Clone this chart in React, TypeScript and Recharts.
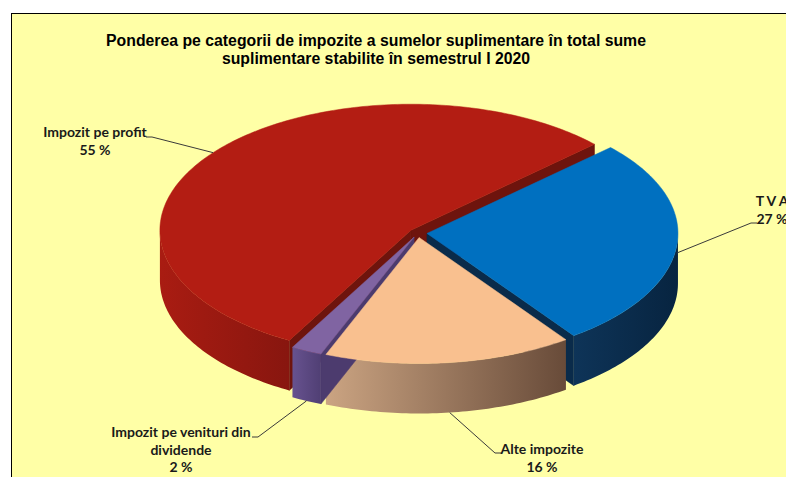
import { PieChart, Pie } from 'recharts';

const categories = [
  'Impozit pe profit',
  'T V A',
  'Alte impozite',
  'Impozit pe venituri din dividende',
];
const shares = [55, 27, 16, 2];
// how each category name is broken over lines in its label
const nameLines = [
  ['Impozit pe profit'],
  ['T V A'],
  ['Alte impozite'],
  ['Impozit pe venituri din', 'dividende'],
];

const topColors = ['#B31D13', '#0070C0', '#F9C08F', '#8064A2'];
const wallColors = [
  ['#A91C12', '#88160F'],
  ['#0E3458', '#072440'],
  ['#CBA482', '#684B39'],
  ['#67528F', '#503F74'],
];
const faceColors = ['#6E140D', '#0A2B4A', '#8A6A50', '#4C3B6E'];

// label placement: knee of leader, tail of leader, text centre x, first baseline
const labelLayout = [
  { knee: [152, 137], tail: [146, 137], tx: 95, ty: 137 },
  { knee: [751, 223], tail: [757, 223], tx: 772, ty: 206 },
  { knee: [495, 453], tail: [502, 453], tx: 542, ty: 454 },
  { knee: [258, 437], tail: [252, 437], tx: 181, ty: 437 },
];

const data = categories.map((name, idx) => ({ name, value: shares[idx], idx }));

const TILT = 0.502;
const DEPTH = 50;
const EXPLODE = 9;

const rad = (d: number) => (d * Math.PI) / 180;

const geom = (p: any) => {
  const a1 = Math.min(p.startAngle, p.endAngle);
  const a2 = Math.max(p.startAngle, p.endAngle);
  const mid = (a1 + a2) / 2;
  const ox = EXPLODE * Math.cos(rad(mid));
  const oy = -EXPLODE * TILT * Math.sin(rad(mid));
  const r = p.outerRadius;
  const pt = (a: number, dz = 0): [number, number] => [
    p.cx + ox + r * Math.cos(rad(a)),
    p.cy + oy - r * TILT * Math.sin(rad(a)) + dz,
  ];
  const arc = (from: number, to: number, dz = 0) => {
    const n = Math.max(2, Math.ceil(Math.abs(to - from)));
    const pts: [number, number][] = [];
    for (let k = 0; k <= n; k++) pts.push(pt(from + ((to - from) * k) / n, dz));
    return pts;
  };
  const c: [number, number] = [p.cx + ox, p.cy + oy];
  return { a1, a2, pt, arc, c };
};

const toPts = (pts: [number, number][]) => pts.map((q) => `${q[0].toFixed(2)},${q[1].toFixed(2)}`).join(' ');

const WallShape = (p: any) => {
  const idx = p.payload?.idx ?? p.idx ?? 0;
  const { a1, a2, pt, arc, c } = geom(p);
  const faces = [];
  if (Math.sin(rad(a1 - 90)) < 0) {
    const e = pt(a1);
    faces.push([c, e, [e[0], e[1] + DEPTH], [c[0], c[1] + DEPTH]] as [number, number][]);
  }
  if (Math.sin(rad(a2 + 90)) < 0) {
    const e = pt(a2);
    faces.push([c, e, [e[0], e[1] + DEPTH], [c[0], c[1] + DEPTH]] as [number, number][]);
  }
  const walls = [];
  for (let k = -1; k <= 1; k++) {
    const lo = Math.max(a1, -180 + 360 * k);
    const hi = Math.min(a2, 360 * k);
    if (hi > lo) {
      const top = arc(lo, hi);
      const bottom = arc(hi, lo, DEPTH);
      walls.push([...top, ...bottom]);
    }
  }
  const gid = `wall-grad-${idx}`;
  return (
    <g>
      <defs>
        <linearGradient id={gid} x1='0' y1='0' x2='1' y2='0'>
          <stop offset='0%' stopColor={wallColors[idx][0]} />
          <stop offset='100%' stopColor={wallColors[idx][1]} />
        </linearGradient>
      </defs>
      {faces.map((f, i) => (
        <polygon key={`f${i}`} points={toPts(f)} fill={faceColors[idx]} stroke={faceColors[idx]} strokeWidth={0.5} />
      ))}
      {walls.map((w, i) => (
        <polygon key={`w${i}`} points={toPts(w)} fill={`url(#${gid})`} />
      ))}
    </g>
  );
};

const TopShape = (p: any) => {
  const idx = p.payload?.idx ?? p.idx ?? 0;
  const { a1, a2, arc, c } = geom(p);
  return (
    <polygon
      points={toPts([c, ...arc(a1, a2)])}
      fill={topColors[idx]}
      stroke={topColors[idx]}
      strokeWidth={0.5}
    />
  );
};

const renderLabel = (p: any) => {
  const idx = p.payload?.idx ?? p.idx ?? 0;
  const m = rad(p.midAngle);
  const ax = p.cx + EXPLODE * Math.cos(m) + p.outerRadius * Math.cos(m);
  const ay =
    p.cy -
    EXPLODE * TILT * Math.sin(m) -
    p.outerRadius * TILT * Math.sin(m) +
    DEPTH * Math.min(1, Math.max(0, -Math.sin(m) * 1.5));
  const lay = labelLayout[idx];
  const lines = [...nameLines[idx], `${shares[idx]} %`];
  return (
    <g key={`lbl-${idx}`}>
      <polyline
        points={`${ax},${ay} ${lay.knee[0]},${lay.knee[1]} ${lay.tail[0]},${lay.tail[1]}`}
        fill='none'
        stroke='#3a3a3a'
        strokeWidth={1}
      />
      <text
        textAnchor='middle'
        fontFamily='Lato, sans-serif'
        fontWeight='bold'
        fontSize={14}
        fill='#1a1a1a'
      >
        {lines.map((l, k) => (
          <tspan key={k} x={lay.tx} y={lay.ty + k * 17.5}>
            {l}
          </tspan>
        ))}
      </text>
    </g>
  );
};

const App = () => {
  return (
    <div style={{ position: 'relative', width: 786, height: 477, overflow: 'hidden', background: '#fff' }}>
      <style>{'body{margin:0;overflow:hidden}'}</style>
      <div
        style={{
          position: 'absolute',
          left: 11,
          top: 13,
          width: 775,
          height: 464,
          boxSizing: 'border-box',
          borderTop: '1px solid #000',
          borderLeft: '1px solid #000',
          background: '#FFFFA6',
        }}
      />
      <div
        style={{
          position: 'absolute',
          left: 0,
          top: 32,
          width: 752,
          textAlign: 'center',
          fontFamily: '"Liberation Sans", Arial, sans-serif',
          fontWeight: 'bold',
          fontSize: 15.8,
          lineHeight: '17.5px',
          color: '#000',
        }}
      >
        Ponderea pe categorii de impozite a sumelor suplimentare în total sume
        <br />
        suplimentare stabilite în semestrul I 2020
      </div>
      <div style={{ position: 'absolute', left: 0, top: 0 }}>
        <PieChart width={786} height={477}>
          <Pie
            data={data}
            dataKey='value'
            nameKey='name'
            cx={413}
            cy={228}
            outerRadius={251}
            startAngle={241}
            endAngle={-119}
            fill='none'
            stroke='none'
            shape={WallShape}
            isAnimationActive={false}
          />
          <Pie
            data={data}
            dataKey='value'
            nameKey='name'
            cx={413}
            cy={228}
            outerRadius={251}
            startAngle={241}
            endAngle={-119}
            fill='none'
            stroke='none'
            shape={TopShape}
            label={renderLabel}
            labelLine={false}
            isAnimationActive={false}
          />
        </PieChart>
      </div>
    </div>
  );
};

export default App;
